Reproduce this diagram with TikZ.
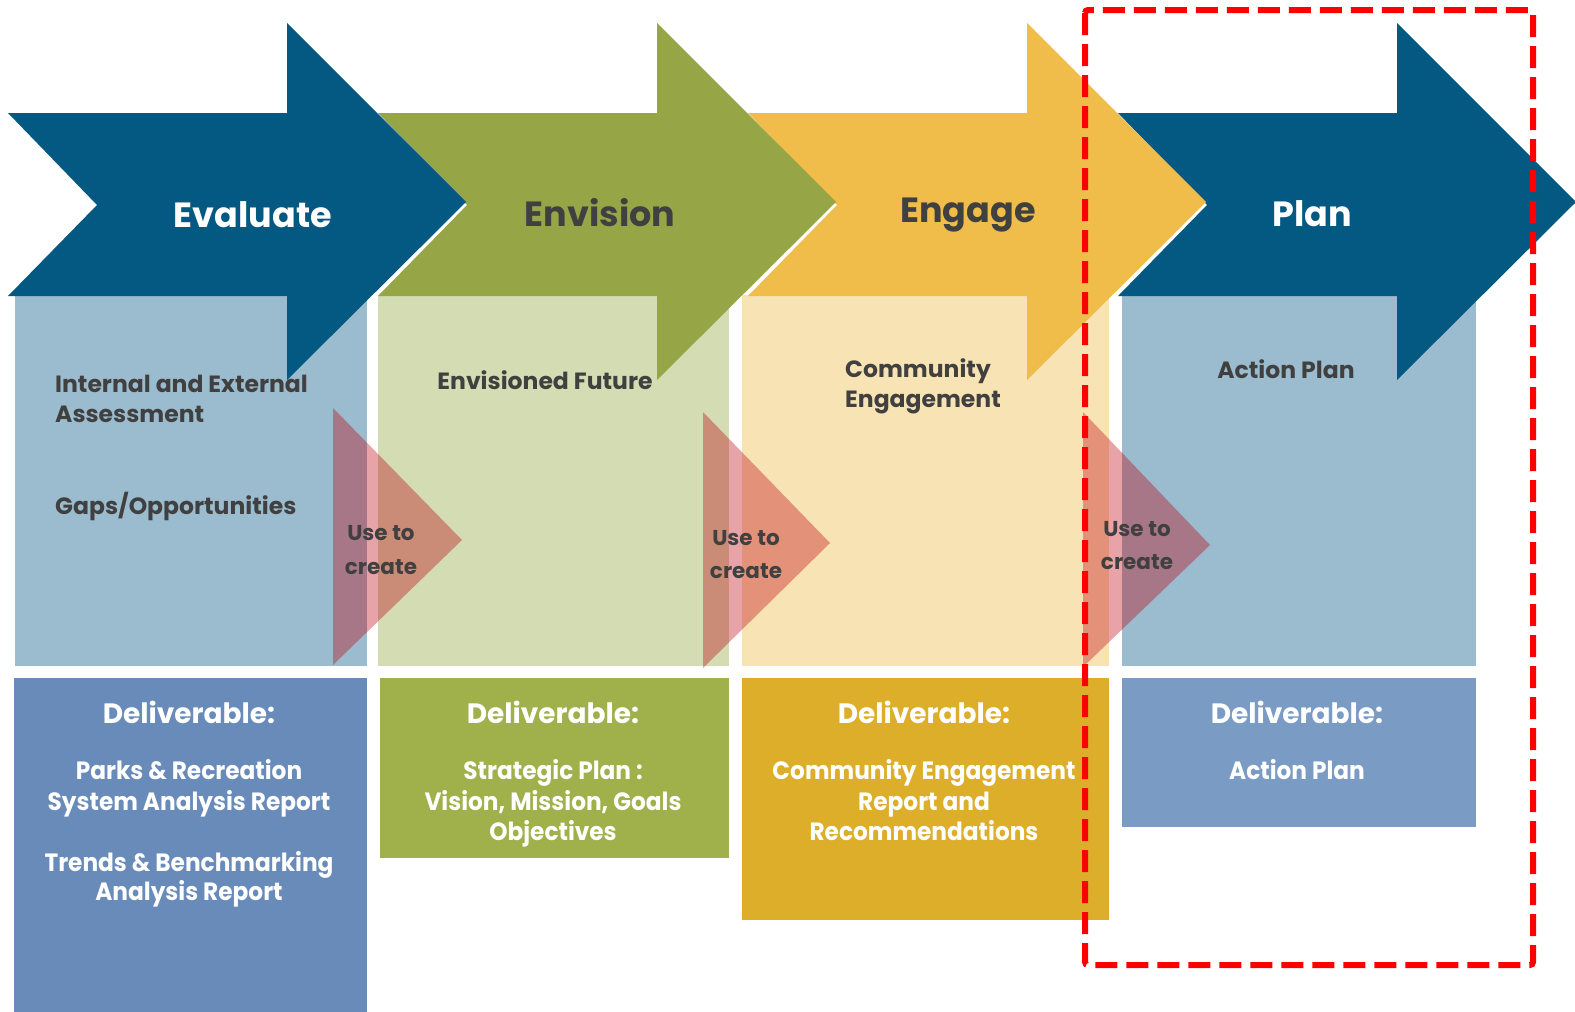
\documentclass[tikz,border=0pt]{standalone}
\usepackage{fontspec}
\setmainfont{Poppins}
\newfontfamily\condfont[FakeStretch=0.93]{Poppins}
\definecolor{dblue}{RGB}{4,89,130}
\definecolor{agreen}{RGB}{150,166,70}
\definecolor{ayellow}{RGB}{240,188,74}
\definecolor{lblue}{RGB}{155,187,206}
\definecolor{lgreen}{RGB}{211,220,179}
\definecolor{lyellow}{RGB}{248,227,180}
\definecolor{delblue}{RGB}{104,139,185}
\definecolor{delgreen}{RGB}{160,176,74}
\definecolor{delgold}{RGB}{220,174,42}
\definecolor{delplan}{RGB}{122,155,196}
\definecolor{txt}{RGB}{64,64,64}
\definecolor{tri}{RGB}{191,0,14}
\newcommand\chevronarrow[2]{%
  \fill[#2] ({#1-279},113) -- (#1,113) -- (#1,23) -- ({#1+179},202) -- (#1,380) -- (#1,296) -- ({#1-279},296) -- ({#1-190},205) -- cycle;}
\tikzset{
  ttl/.style={font=\fontsize{35}{40}\selectfont\bfseries, anchor=base, inner sep=0},
  lbl/.style={font=\fontsize{23.5}{28}\selectfont\bfseries, text=txt, anchor=base west, inner sep=0},
  lblc/.style={font=\fontsize{23.5}{28}\selectfont\bfseries, text=txt, anchor=base, inner sep=0},
  usetxt/.style={font=\fontsize{21.5}{26}\selectfont\bfseries, text=txt, anchor=base, inner sep=0},
  delh/.style={font=\fontsize{28}{32}\selectfont\bfseries, text=white, anchor=base, inner sep=0},
  delb/.style={font=\condfont\fontsize{25}{30}\selectfont\bfseries, text=white, anchor=base, inner sep=0},
  usetri/.style={fill=tri, fill opacity=0.36},
}
\begin{document}
\begin{tikzpicture}[x=1pt,y=-1pt]
\useasboundingbox (0,0) rectangle (1575,1012);
% light boxes
\fill[lblue]   (15,295) rectangle (367,666);
\fill[lgreen]  (378,295) rectangle (729,666);
\fill[lyellow] (742,295) rectangle (1109,666);
\fill[lblue]   (1122,295) rectangle (1476,666);
% arrows
\chevronarrow{1397}{dblue}
\chevronarrow{1027}{ayellow}
\chevronarrow{657}{agreen}
\chevronarrow{287}{dblue}
% titles
\node[ttl, text=white] (t1) at (253,227) {Evaluate};
\node[ttl, text=txt]   (t2) at (600,226) {Envision};
\node[ttl, text=txt]   (t3) at (968,222) {Engage};
\node[ttl, text=white] (t4) at (1312,226) {Plan};
% light box texts
\node[lbl] (a1) at (55,392) {Internal and External};
\node[lbl] (a2) at (55,422) {Assessment};
\node[lbl] (a3) at (55,514) {Gaps/Opportunities};
\node[lblc] (b1) at (545,389) {Envisioned Future};
\node[lbl] (c1) at (845,377) {Community};
\node[lbl] (c2) at (845,407) {Engagement};
\node[lblc] (d1) at (1286,378) {Action Plan};
% use-to-create triangles
\fill[usetri] (333,408) -- (462,540) -- (333,665) -- cycle;
\fill[usetri] (703,412) -- (830,543) -- (703,668) -- cycle;
\fill[usetri] (1083,412) -- (1210,545) -- (1083,667) -- cycle;
\node[usetxt] (u1a) at (381,540) {Use to};
\node[usetxt] (u1b) at (381,574) {create};
\node[usetxt] (u2a) at (746,545) {Use to};
\node[usetxt] (u2b) at (746,578) {create};
\node[usetxt] (u3a) at (1137,536) {Use to};
\node[usetxt] (u3b) at (1137,569) {create};
% deliverable boxes
\fill[delblue]  (14,678) rectangle (367,1012);
\fill[delgreen] (380,678) rectangle (729,858);
\fill[delgold]  (742,678) rectangle (1109,920);
\fill[delplan]  (1122,678) rectangle (1476,827);
\node[delh] (h1) at (189,723) {Deliverable:};
\node[delb] (p1) at (189,779) {Parks \& Recreation};
\node[delb] (p2) at (189,810) {System Analysis Report};
\node[delb] (p3) at (189,871) {Trends \& Benchmarking};
\node[delb] (p4) at (189,900) {Analysis Report};
\node[delh] (h2) at (553,723) {Deliverable:};
\node[delb] (q1) at (553,779) {Strategic Plan :};
\node[delb] (q2) at (553,810) {Vision, Mission, Goals};
\node[delb] (q3) at (553,840) {Objectives};
\node[delh] (h3) at (924,723) {Deliverable:};
\node[delb] (r1) at (924,779) {Community Engagement};
\node[delb] (r2) at (924,810) {Report and};
\node[delb] (r3) at (924,840) {Recommendations};
\node[delh] (h4) at (1297,723) {Deliverable:};
\node[delb] (s1) at (1297,779) {Action Plan};
% red dashed highlight
\draw[red, line width=6pt, dash pattern=on 22pt off 9pt, rounded corners=3pt] (1085,10) rectangle (1533,965);
\end{tikzpicture}
\end{document}
